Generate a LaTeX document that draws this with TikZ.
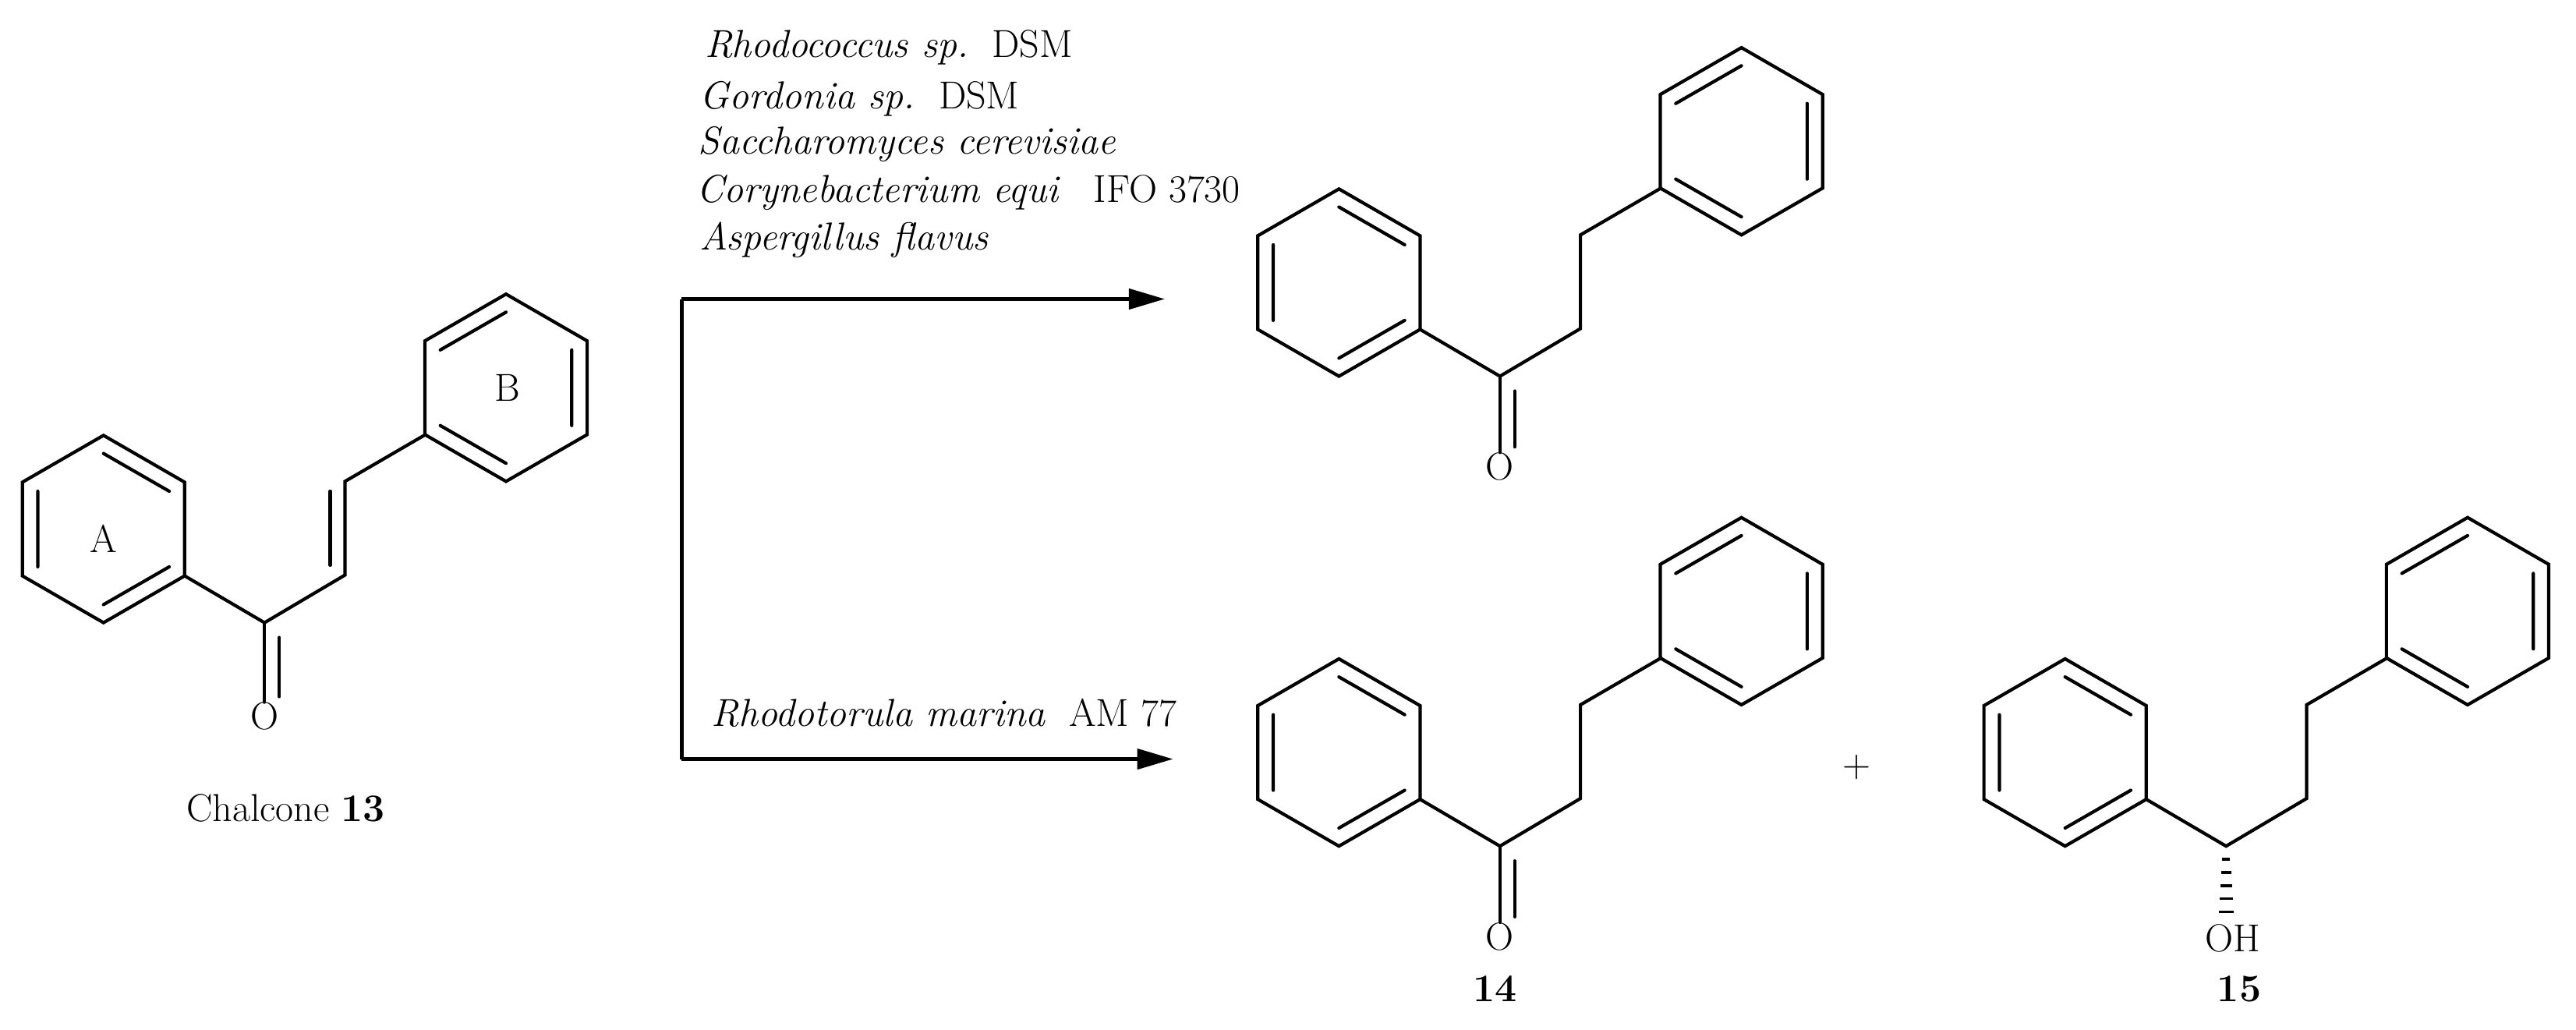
\documentclass[tikz,border=0pt]{standalone}
\usetikzlibrary{arrows.meta}
\tikzset{bond/.style={line width=4.2pt,line join=miter,line cap=round},
 lbl/.style={font=\fontsize{50}{60}\selectfont,inner sep=0pt},
 rxn/.style={line width=4.5pt,-{Triangle[length=46pt,width=26pt]}}}
\newcommand{\ringA}[2]{\begin{scope}[shift={(#1,#2)}]
 \draw[bond] (0,-57)--(49.4,-28.5)--(49.4,28.5)--(0,57)--(-49.4,28.5)--(-49.4,-28.5)--cycle;
 \draw[bond] (0,-46)--(40,-23) (-40,23)--(-40,-23) (40,23)--(0,46);
 \end{scope}}
\newcommand{\ringB}[2]{\begin{scope}[shift={(#1,#2)}]
 \draw[bond] (0,-57)--(49.4,-28.5)--(49.4,28.5)--(0,57)--(-49.4,28.5)--(-49.4,-28.5)--cycle;
 \draw[bond] (-40,-23)--(0,-46) (40,-23)--(40,23) (-40,23)--(0,46);
 \end{scope}}
\begin{document}
\begin{tikzpicture}[x=2.107pt,y=-2.107pt]
\useasboundingbox (0,0) rectangle (1568,626.5);
% chalcone
\ringA{63}{322}
\ringB{308}{236}
\node[lbl] (lA) at (63,328) {A};
\node[lbl] (lB) at (309,236) {B};
\node[lbl] (o1) at (161,436) {O};
\draw[bond] (112.4,350.5)--(161,379)--(210,350)--(210,293)--(259,264.5);
\draw[bond] (201,344)--(201,299);
\draw[bond] (161,379)--(o1.north);
\draw[bond] (170,388)--(170,424);
\node[lbl] (ch) at (174,492) {Chalcone \textbf{13}};
% top product
\ringA{815}{172}
\ringB{1060}{86}
\node[lbl] (o2) at (913,284) {O};
\draw[bond] (864.4,200.5)--(913,229)--(962,200)--(962,143)--(1011,114.5);
\draw[bond] (913,229)--(o2.north);
\draw[bond] (922,238)--(922,272);
% product 14
\ringA{815}{458}
\ringB{1060}{372}
\node[lbl] (o3) at (913,570) {O};
\draw[bond] (864.4,486.5)--(913,515)--(962,486)--(962,429)--(1011,400.5);
\draw[bond] (913,515)--(o3.north);
\draw[bond] (922,524)--(922,558);
\node[lbl] (n14) at (910,602) {\textbf{14}};
\node[lbl] (plus) at (1130,467) {+};
% product 15
\ringA{1257}{458}
\ringB{1502}{372}
\draw[bond] (1306.4,486.5)--(1355,515)--(1404,486)--(1404,429)--(1453,400.5);
\foreach \yy/\w in {523/2.5,531/3,539/3.5,547/4,555/4.5}
  \draw[line width=3.6pt] (1355-\w,\yy)--(1355+\w,\yy);
\node[lbl,anchor=west] (oh) at (1342,571) {OH};
\node[lbl] (n15) at (1363,602) {\textbf{15}};
% arrows
\coordinate (corner1) at (415,182);
\coordinate (corner2) at (415,462);
\coordinate (tip1) at (709,182);
\coordinate (tip2) at (714,462);
\draw[line width=4.5pt] (corner1)--(corner2);
\draw[rxn] (corner1)--(tip1);
\draw[rxn] (corner2)--(tip2);
% conditions
\node[lbl,anchor=west] (c1) at (429,29) {\itshape Rhodococcus sp.\upshape\ \ DSM};
\node[lbl,anchor=west] (c2) at (426,60) {\itshape Gordonia sp.\upshape\ \ DSM};
\node[lbl,anchor=west] (c3) at (425,88) {\itshape Saccharomyces cerevisiae};
\node[lbl,anchor=west] (c4) at (424,117) {\itshape Corynebacterium equi\upshape\ \ \ IFO 3730};
\node[lbl,anchor=west] (c5) at (426,146) {\itshape Aspergillus flavus};
\node[lbl,anchor=west] (c6) at (433,434) {\itshape Rhodotorula marina\upshape\ \ AM 77};
\end{tikzpicture}
\end{document}
